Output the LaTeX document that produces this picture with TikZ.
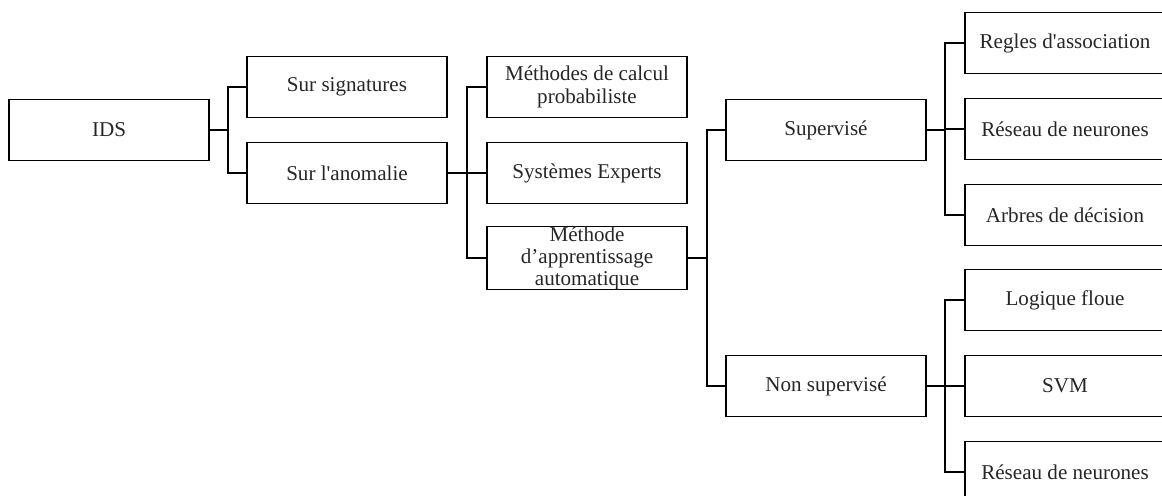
\documentclass[tikz,border=0pt]{standalone}
\usepackage{fontspec}
\setmainfont{Liberation Serif}
\usetikzlibrary{calc}
\begin{document}
\begin{tikzpicture}[x=0.02cm,y=-0.02cm,
  box/.style={draw, line width=1pt, minimum width=4cm, minimum height=1.22cm,
    inner sep=0pt, align=center, text=black!85, font=\fontsize{12}{13}\selectfont},
  link/.style={draw, line width=1pt}]
\useasboundingbox (0,0) rectangle (1162,496);
\clip (0,0) rectangle (1162,496);
% level 0
\node[box] (ids) at (109,130) {IDS};
% level 1
\node[box] (sig) at (347,87) {Sur signatures};
\node[box] (ano) at (347,173) {Sur l\textquotesingle anomalie};
% level 2
\node[box] (prob) at (587,87) {Méthodes de calcul\\probabiliste};
\node[box] (exp) at (587,173) {Systèmes Experts};
\node[box, font=\fontsize{12}{12.5}\selectfont] (app) at (587,258) {Méthode\\d’apprentissage\\automatique};
% level 3
\node[box] (sup) at (826,130) {Supervisé};
\node[box] (nsup) at (826,386) {Non supervisé};
% level 4
\node[box] (regl) at (1065,43) {Regles d\textquotesingle association};
\node[box] (res1) at (1065,129) {Réseau de neurones};
\node[box] (arb) at (1065,215) {Arbres de décision};
\node[box] (log) at (1065,300) {Logique floue};
\node[box] (svm) at (1065,386) {SVM};
\node[box] (res2) at (1065,472) {Réseau de neurones};
% connectors
\coordinate (b1) at (228,130);
\draw[link] (ids.east) -- (b1);
\draw[link] (b1) |- (sig.west);
\draw[link] (b1) |- (ano.west);
\coordinate (b2) at (467,173);
\draw[link] (ano.east) -- (b2);
\draw[link] (b2) |- (prob.west);
\draw[link] (b2) |- (exp.west);
\draw[link] (b2) |- (app.west);
\coordinate (b3) at (707,258);
\draw[link] (app.east) -- (b3);
\draw[link] (b3) |- (sup.west);
\draw[link] (b3) |- (nsup.west);
\coordinate (b4) at (945,130);
\draw[link] (sup.east) -- (b4);
\draw[link] (b4) |- (regl.west);
\draw[link] (b4) |- (res1.west);
\draw[link] (b4) |- (arb.west);
\coordinate (b5) at (945,386);
\draw[link] (nsup.east) -- (b5);
\draw[link] (b5) |- (log.west);
\draw[link] (b5) |- (svm.west);
\draw[link] (b5) |- (res2.west);
\end{tikzpicture}
\end{document}
